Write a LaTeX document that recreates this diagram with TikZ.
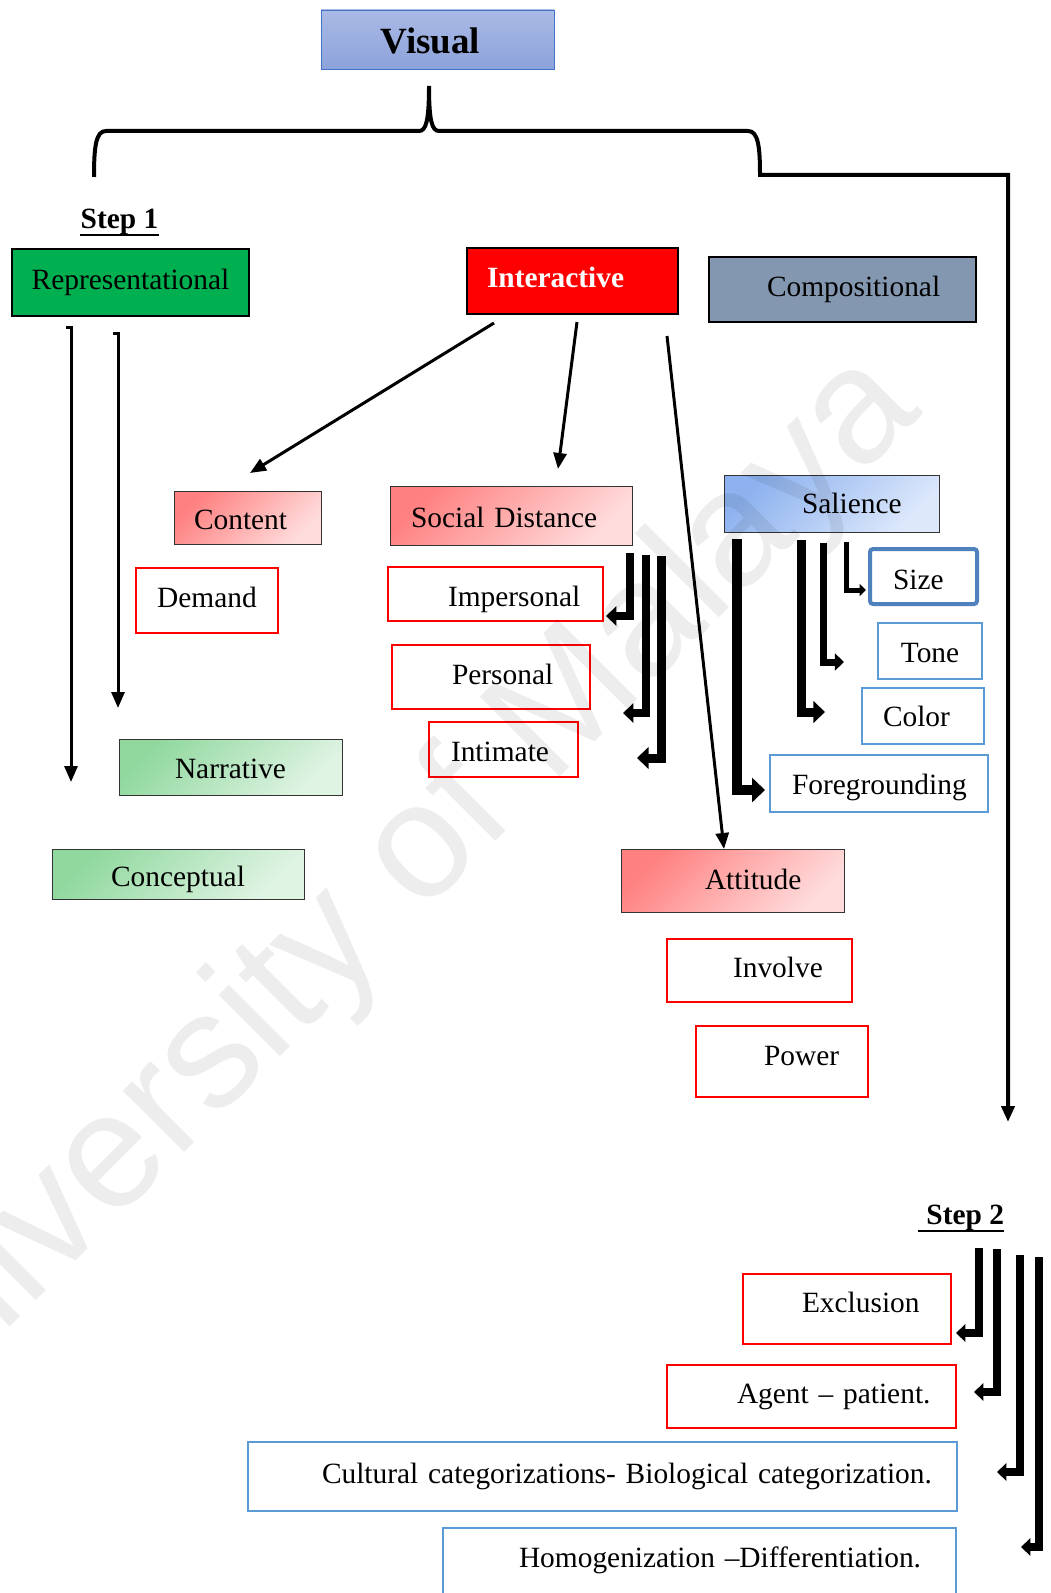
\documentclass[tikz,border=0pt]{standalone}
\usepackage{fontspec}
\setmainfont{Liberation Serif}
\newfontfamily\wmfont{Liberation Sans}
\usetikzlibrary{arrows.meta}

\definecolor{repgreen}{RGB}{0,176,80}
\definecolor{compgray}{RGB}{132,151,176}
\definecolor{visualtop}{RGB}{170,186,229}
\definecolor{visualbot}{RGB}{140,162,218}
\definecolor{visualedge}{RGB}{68,114,196}
\definecolor{pinkdark}{RGB}{255,128,128}
\definecolor{pinklight}{RGB}{255,220,220}
\definecolor{greendark}{RGB}{144,216,158}
\definecolor{greenlight}{RGB}{224,244,228}
\definecolor{bluedark}{RGB}{141,178,239}
\definecolor{bluelight}{RGB}{221,232,251}
\definecolor{lineblue}{RGB}{91,155,213}
\definecolor{sizeblue}{RGB}{79,129,189}

\tikzset{
    box/.style = {rectangle, inner xsep=0pt, inner ysep=0pt, align=left, text height=10pt, text depth=3pt, font=\fontsize{14.7}{18}\selectfont},
    visualbox/.style = {box, align=center, draw=visualedge, top color=visualtop, bottom color=visualbot, font=\fontsize{18.5}{22}\selectfont\bfseries, text height=13pt, text depth=4pt},
    repbox/.style = {box, align=center, draw=black, line width=0.7pt, fill=repgreen},
    interbox/.style = {box, draw=black, line width=0.7pt, fill=red, text=white, font=\fontsize{14.7}{18}\selectfont\bfseries},
    compbox/.style = {box, draw=black, line width=0.7pt, fill=compgray},
    pinkbox/.style = {box, draw=black!80, top color=pinkdark, bottom color=pinklight, shading angle=45},
    greenbox/.style = {box, align=center, draw=black!80, top color=greendark, bottom color=greenlight, shading angle=45},
    bluebox/.style = {box, draw=black!80, top color=bluedark, bottom color=bluelight, shading angle=45},
    redframe/.style = {box, draw=red, line width=1.3pt, fill=white},
    blueframe/.style = {box, draw=lineblue, line width=1.2pt, fill=white},
    steplabel/.style = {inner sep=0pt, font=\fontsize{14.7}{18}\selectfont\bfseries},
    thinarrow/.style = {line width=1.5pt, -{Triangle[length=8pt,width=6.5pt]}},
    elbow/.style = {line width=#1, -{Triangle[length=0pt 1.3,width=0pt 2.4]}},
}

\begin{document}
\begin{tikzpicture}[x=0.5pt, y=-0.5pt]
\fill[white] (0,0) rectangle (1050,1593);
\useasboundingbox (0,0) rectangle (1050,1593);

% top box and brace
\node[visualbox, text width=116.5pt, minimum height=29.5pt] (visual) at (437.5,39.5) {\hspace*{-7pt}\raisebox{-2.5pt}{Visual}};
\coordinate (braceL) at (94,177);
\coordinate (braceTip) at (429,86);
\coordinate (braceR) at (760,175);
\coordinate (rightTurn) at (1008,175);
\coordinate (stepTwoEnd) at (1008,1122);
\draw[thinarrow, line width=2pt] (braceL) .. controls (94,146) and (96,131) .. (106,131) -- (419,131)
    .. controls (426,131) and (429,121) .. (braceTip) .. controls (429,121) and (432,131) .. (439,131)
    -- (748,131) .. controls (758,131) and (760,146) .. (braceR) -- (rightTurn) -- (stepTwoEnd);

% step 1
\node[steplabel, anchor=base] (step1) at (119.5,229) {Step 1};
\draw[line width=1.4pt] ([yshift=-3pt]step1.base west) -- ([yshift=-3pt]step1.base east);

\node[repbox, text width=118.5pt, minimum height=33.5pt] (rep) at (130.5,282.5) {Representational};
\node[interbox, text width=105.5pt, minimum height=33pt] (inter) at (572.5,281) {\hspace*{10pt}Interactive};
\node[compbox, text width=133.5pt, minimum height=32.5pt] (comp) at (842.5,289.5) {\hspace*{29pt}Compositional};

% representational
\node[greenbox, text width=111.5pt, minimum height=28pt] (narrative) at (230.5,767) {\raisebox{-2pt}{Narrative}};
\node[greenbox, text width=126pt, minimum height=25pt] (concept) at (178,874) {\raisebox{-2.5pt}{Conceptual}};
\coordinate (repA) at (71,328);
\coordinate (repAend) at (71,782);
\coordinate (repB) at (118,334);
\coordinate (repBend) at (118,708);
\draw[thinarrow] ([xshift=-2.5pt]repA) -- (repA) -- (repAend);
\draw[thinarrow] ([xshift=-2.5pt]repB) -- (repB) -- (repBend);

% interactive
\node[pinkbox, text width=73.5pt, minimum height=26.5pt] (content) at (247.5,517.5) {\hspace*{10pt}\raisebox{-2.5pt}{Content}};
\node[redframe, align=center, text width=71pt, minimum height=32.5pt] (demand) at (207,600.5) {Demand};
\node[pinkbox, text width=121pt, minimum height=29.5pt] (social) at (511,515.5) {\hspace*{10.5pt}\raisebox{-2.5pt}{Social Distance}};
\node[redframe, text width=107.5pt, minimum height=27pt] (imper) at (495.5,594) {\hspace*{30pt}\raisebox{-2.5pt}{Impersonal}};
\node[redframe, text width=99pt, minimum height=32pt] (personal) at (491,677) {\hspace*{30pt}Personal};
\node[redframe, text width=74.5pt, minimum height=27.5pt] (intimate) at (503.5,749.5) {\hspace*{11pt}\raisebox{-2.5pt}{Intimate}};
\node[pinkbox, text width=111.5pt, minimum height=31.5pt] (attitude) at (732.5,880.5) {\hspace*{42pt}\raisebox{-1pt}{Attitude}};
\node[redframe, text width=92.5pt, minimum height=31.5pt] (involve) at (759.5,970.5) {\hspace*{33pt}Involve};
\node[redframe, text width=86pt, minimum height=35.5pt] (power) at (782,1061.5) {\hspace*{34pt}\raisebox{1.5pt}{Power}};

\coordinate (interA) at (494,323);
\coordinate (contentEnd) at (250,473);
\coordinate (interB) at (577,322);
\coordinate (socialEnd) at (558,469);
\coordinate (interC) at (667,336);
\coordinate (attitudeEnd) at (724,849);
\draw[thinarrow] (interA) -- (contentEnd);
\draw[thinarrow] (interB) -- (socialEnd);
\draw[thinarrow] (interC) -- (attitudeEnd);

\coordinate (imTop) at (630,553);
\coordinate (imTip) at (606,616);
\coordinate (peTop) at (646,555);
\coordinate (peTip) at (623,713);
\coordinate (itTop) at (661,556);
\coordinate (itTip) at (637,758);
\draw[elbow=4pt] (imTop) |- (imTip);
\draw[elbow=4pt] (peTop) |- (peTip);
\draw[elbow=4.5pt] (itTop) |- (itTip);

% compositional
\node[bluebox, text width=107.5pt, minimum height=28.5pt] (salience) at (831.5,503.5) {\hspace*{39pt}\raisebox{-1.5pt}{Salience}};
\node[box, draw=sizeblue, line width=2pt, rounded corners=1.5pt, fill=white, text width=53.5pt, minimum height=27.5pt] (size) at (923.5,576.5) {\hspace*{11.5pt}\raisebox{-3pt}{Size}};
\node[blueframe, align=center, text width=52pt, minimum height=28pt] (tone) at (930,651) {\raisebox{-2pt}{Tone}};
\node[blueframe, text width=61pt, minimum height=28pt] (colour) at (923,716) {\hspace*{10.5pt}\raisebox{-1.5pt}{Color}};
\node[blueframe, text width=109pt, minimum height=28.5pt] (fore) at (879,783.5) {\hspace*{11pt}\raisebox{-2pt}{Foregrounding}};

\coordinate (szTop) at (846,542);
\coordinate (szTip) at (866,590);
\coordinate (tnTop) at (823,543);
\coordinate (tnTip) at (844,662);
\coordinate (clTop) at (801,540);
\coordinate (clTip) at (825,712);
\coordinate (fgTop) at (737,539);
\coordinate (fgTip) at (765,790);
\draw[elbow=2.5pt] (szTop) |- (szTip);
\draw[elbow=3.5pt] (tnTop) |- (tnTip);
\draw[elbow=4.5pt] (clTop) |- (clTip);
\draw[elbow=5pt] (fgTop) |- (fgTip);

% step 2
\node[steplabel, anchor=base west] (step2) at (918,1224) {\hspace*{4pt}Step 2};
\draw[line width=1.4pt] ([yshift=-3.5pt]step2.base west) -- ([yshift=-3.5pt]step2.base east);

\node[redframe, text width=104pt, minimum height=35pt] (excl) at (847,1309) {\hspace*{29.5pt}\raisebox{2pt}{Exclusion}};
\node[redframe, text width=144.5pt, minimum height=31.5pt] (agent) at (811.5,1396.5) {\hspace*{35pt}Agent – patient.};
\node[blueframe, text width=354.5pt, minimum height=34.5pt] (cultural) at (602.5,1476.5) {\hspace*{37pt}Cultural categorizations- Biological categorization.};
\node[blueframe, text width=256.5pt, minimum height=36pt] (homog) at (699.5,1564) {\hspace*{38pt}\raisebox{2pt}{Homogenization –Differentiation.}};

\coordinate (exTop) at (979,1248);
\coordinate (exTip) at (956,1333);
\coordinate (agTop) at (997,1249);
\coordinate (agTip) at (974,1392);
\coordinate (cuTop) at (1020,1255);
\coordinate (cuTip) at (997,1472);
\coordinate (hoTop) at (1039,1257);
\coordinate (hoTip) at (1021,1547);
\draw[elbow=3.6pt] (exTop) |- (exTip);
\draw[elbow=3.6pt] (agTop) |- (agTip);
\draw[elbow=3.6pt] (cuTop) |- (cuTip);
\draw[elbow=3.6pt] (hoTop) |- (hoTip);

% watermark
\node[rotate=45, text=black, text opacity=0.07, font=\wmfont\fontsize{82}{90}\selectfont] (wm) at (372,905) {University of Malaya};
\end{tikzpicture}
\end{document}
